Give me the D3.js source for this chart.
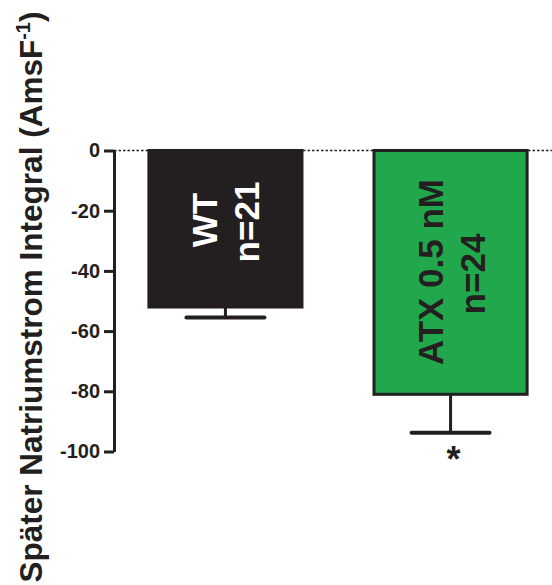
<!DOCTYPE html>
<html>
<head>
<meta charset="utf-8">
<script src="https://cdn.jsdelivr.net/npm/d3@7"></script>
<style>
  body { margin: 0; background: #fff; }
  text { font-family: "Liberation Sans", Arial, sans-serif; font-weight: bold; }
</style>
</head>
<body>
<div id="chart"></div>
<script>
// groups and their values
const groups = ['WT', 'ATX'];
const means = [-52, -81];
const sems = [3.5, 12.8];
const labels = ['WT', 'ATX 0.5 nM'];
const nLabels = ['n=21', 'n=24'];
const fills = ['#231f20', '#22a84c'];
const textColors = ['#ffffff', '#231f20'];
const yTicks = [0, -20, -40, -60, -80, -100];
const stars = ['', '*'];

const width = 552, height = 585;
const axisX = 114;

const svg = d3.select('#chart')
  .append('svg')
  .attr('width', width)
  .attr('height', height);

const y = d3.scaleLinear().domain([0, -100]).range([150.5, 451.5]);
const x = d3.scaleBand()
  .domain(groups)
  .range([axisX, 562])
  .paddingInner(0.32)
  .paddingOuter(0.155);

// dotted zero line
svg.append('line')
  .attr('x1', axisX).attr('x2', width)
  .attr('y1', y(0)).attr('y2', y(0))
  .attr('stroke', '#231f20')
  .attr('stroke-width', 1.5)
  .attr('stroke-dasharray', '2.5,2');

// error bars
groups.forEach((g, i) => {
  const cx = x(g) + x.bandwidth() / 2;
  svg.append('line')
    .attr('x1', cx).attr('x2', cx)
    .attr('y1', y(means[i])).attr('y2', y(means[i] - sems[i]))
    .attr('stroke', '#231f20').attr('stroke-width', 3);
  svg.append('line')
    .attr('x1', cx - 39).attr('x2', cx + 39)
    .attr('y1', y(means[i] - sems[i])).attr('y2', y(means[i] - sems[i]))
    .attr('stroke', '#231f20').attr('stroke-width', 4)
    .attr('stroke-linecap', 'round');
});

// bars
svg.selectAll('rect.bar')
  .data(groups)
  .enter().append('rect')
  .attr('class', 'bar')
  .attr('x', d => x(d))
  .attr('y', y(0))
  .attr('width', x.bandwidth())
  .attr('height', (d, i) => y(means[i]) - y(0))
  .attr('fill', (d, i) => fills[i])
  .attr('stroke', '#231f20')
  .attr('stroke-width', 3);

// labels inside bars
const labelY = [220, 272];
groups.forEach((g, i) => {
  const cx = x(g) + x.bandwidth() / 2;
  svg.append('text')
    .attr('transform', `translate(${cx - 8},${labelY[i]}) rotate(-90)`)
    .attr('text-anchor', 'middle')
    .attr('font-size', 35)
    .attr('fill', textColors[i])
    .text(labels[i]);
  svg.append('text')
    .attr('transform', `translate(${cx + 34},${labelY[i] + 2}) rotate(-90)`)
    .attr('text-anchor', 'middle')
    .attr('font-size', 35)
    .attr('fill', textColors[i])
    .text(nLabels[i]);
  if (stars[i]) {
    svg.append('text')
      .attr('x', cx + 3)
      .attr('y', y(means[i] - sems[i]) + 39)
      .attr('text-anchor', 'middle')
      .attr('font-size', 36)
      .attr('fill', '#231f20')
      .text(stars[i]);
  }
});

// y axis
const yAxis = svg.append('g')
  .attr('transform', `translate(${axisX},0)`)
  .call(d3.axisLeft(y).tickValues(yTicks).tickFormat(d => String(d))
    .tickSize(10).tickSizeOuter(0).tickPadding(4));
yAxis.select('.domain').attr('stroke', '#231f20').attr('stroke-width', 3);
yAxis.selectAll('.tick line').attr('stroke', '#231f20').attr('stroke-width', 3);
yAxis.selectAll('.tick text')
  .attr('font-size', 20)
  .attr('font-family', '"Liberation Sans", Arial, sans-serif')
  .attr('font-weight', 'bold')
  .attr('fill', '#231f20');

// y title
const title = svg.append('text')
  .attr('transform', 'translate(42,297) rotate(-90)')
  .attr('text-anchor', 'middle')
  .attr('font-size', 31.5)
  .attr('fill', '#231f20');
title.append('tspan').text('Später Natriumstrom Integral (AmsF');
title.append('tspan').attr('font-size', 20).attr('dy', -12).text('-1');
title.append('tspan').attr('dy', 12).text(')');
</script>
</body>
</html>
